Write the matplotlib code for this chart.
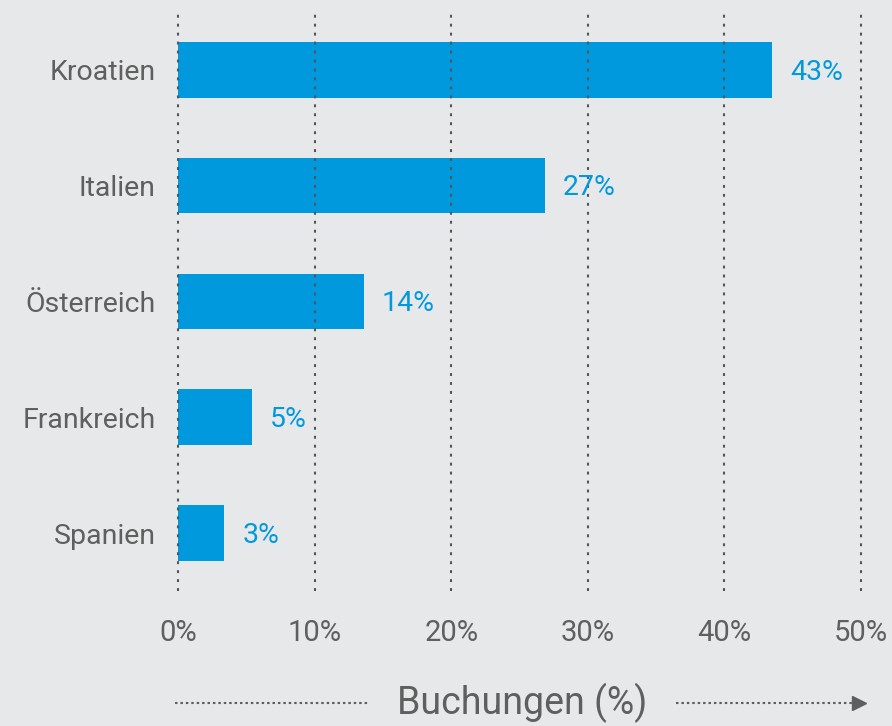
import matplotlib.pyplot as plt

# Daten
laender = ['Kroatien', 'Italien', 'Österreich', 'Frankreich', 'Spanien']
werte = [43.5, 26.9, 13.6, 5.4, 3.4]
labels = ['43%', '27%', '14%', '5%', '3%']
ticks = [0, 10, 20, 30, 40, 50]
tick_labels = ['0%', '10%', '20%', '30%', '40%', '50%']

bg = '#e7e8ea'
blau = '#0099dd'
grau = '#5f5f5f'

plt.rcParams['font.family'] = ['Roboto', 'DejaVu Sans']

fig = plt.figure(figsize=(8.92, 7.26), dpi=100, facecolor=bg)
ax = fig.add_axes([0.1996, 0.186, 0.7656, 0.7975], facecolor=bg)

y = range(len(laender))
ax.barh(y, werte, height=0.48, color=blau, zorder=1)

for i, (w, lab) in enumerate(zip(werte, labels)):
    ax.text(w + 1.3, i + 0.02, lab, color=blau, fontsize=20.5, va='center', ha='left', zorder=3)

ax.set_xlim(0, 50)
ax.set_ylim(4.5, -0.5)
ax.set_xticks(ticks)
ax.set_xticklabels(tick_labels)
ax.set_yticks(list(y))
ax.set_yticklabels(laender)
ax.tick_params(axis='x', length=0, pad=20, labelsize=21, labelcolor=grau)
ax.tick_params(axis='y', length=0, pad=16, labelsize=20.5, labelcolor=grau)

for t in ticks:
    ax.axvline(t, color='#555555', linestyle=(0, (1.4, 2.9)), linewidth=1.5,
               zorder=2, clip_on=False)

for s in ax.spines.values():
    s.set_visible(False)

# Achsentitel mit gepunkteten Pfeilen
ax.text(0.504, -0.193, 'Buchungen (%)', transform=ax.transAxes, ha='center', va='center',
        fontsize=27, color=grau)
ax.plot([-0.004, 0.278], [-0.193, -0.193], transform=ax.transAxes, clip_on=False,
        color=grau, linestyle=(0, (1.2, 1.4)), linewidth=1.5)
ax.plot([0.729, 0.99], [-0.193, -0.193], transform=ax.transAxes, clip_on=False,
        color=grau, linestyle=(0, (1.2, 1.4)), linewidth=1.5)
ax.plot([0.997], [-0.193], transform=ax.transAxes, clip_on=False, marker='>',
        markersize=10, color=grau, linestyle='none')

fig.savefig('out.png', dpi=100, facecolor=bg)
